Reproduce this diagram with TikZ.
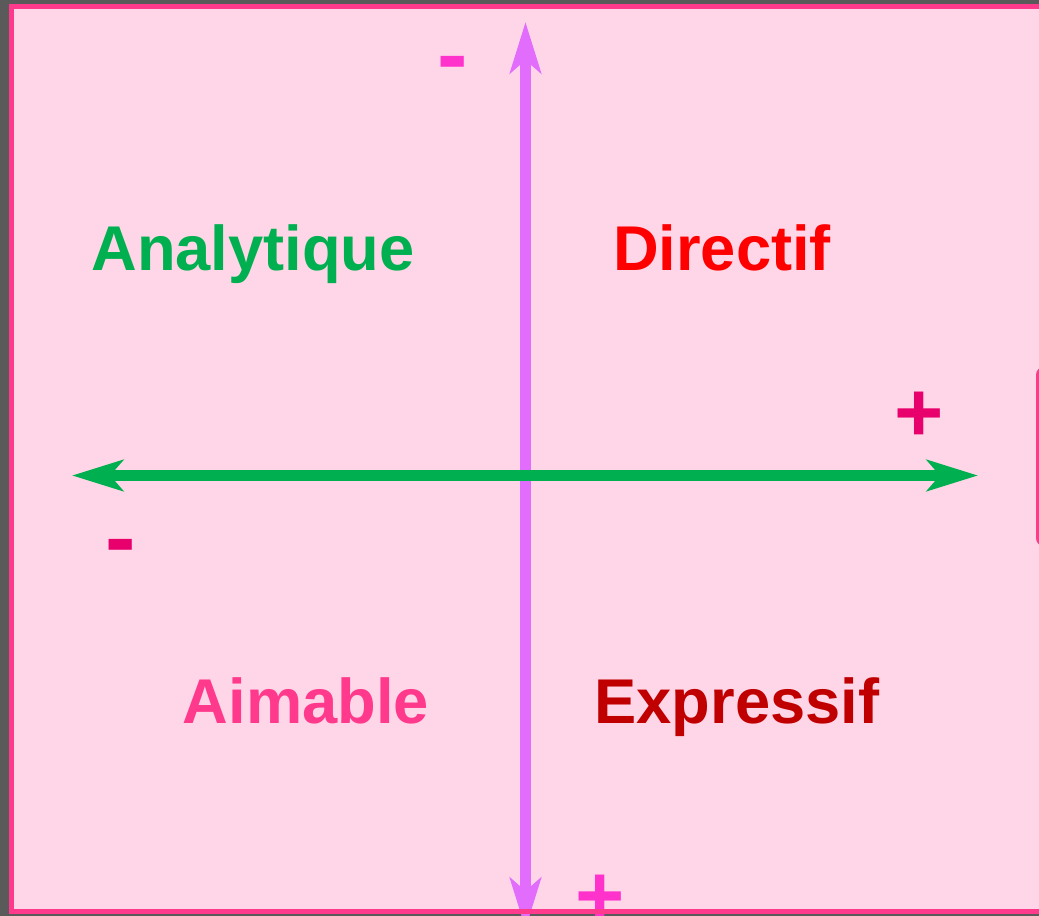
\documentclass[tikz,border=0pt]{standalone}
\usepackage{fontspec}
\setmainfont{Liberation Sans}
\usetikzlibrary{arrows.meta}

\definecolor{slate}{HTML}{5A5A5A}
\definecolor{paper}{HTML}{FFD6E7}
\definecolor{rim}{HTML}{FF3A8C}
\definecolor{axisgreen}{HTML}{00B050}
\definecolor{axisviolet}{HTML}{E26CFC}
\definecolor{signmagenta}{HTML}{FF33CC}
\definecolor{signcrimson}{HTML}{E8006C}
\definecolor{darkred}{HTML}{C00000}

\begin{document}
\begin{tikzpicture}[x=0.02cm,y=-0.02cm,
    >={Stealth[length=29pt,width=17.6pt,inset=7.4pt]},
    quadrant/.style={font=\fontsize{36}{43}\selectfont\bfseries,anchor=base,inner sep=0pt},
    sign/.style={font=\fontsize{48}{58}\selectfont\bfseries,anchor=base,inner sep=0pt},
    bar/.style={font=\fontsize{52}{62}\selectfont\bfseries,anchor=base,inner sep=0pt},
    axis/.style={<->,line width=#1}]
    % Frame of the slide
    \useasboundingbox (0,0) rectangle (1039,916);
    \clip (0,0) rectangle (1039,916);
    \fill[slate] (0,0) rectangle (1039,916);
    \fill[paper] (11.5,6.5) rectangle (1060,911.5);

    % Axes
    \coordinate (top) at (525.5,22);
    \coordinate (bottom) at (525.5,929);
    \coordinate (left) at (72,475.5);
    \coordinate (right) at (978,475.5);
    \draw[axis=6.2pt,axisviolet] (bottom) -- (top);
    \draw[axis=5.7pt,axisgreen] (left) -- (right);

    % Quadrant names
    \node[quadrant,text=axisgreen] (analytique) at (253,270) {Analytique};
    \node[quadrant,text=red] (directif) at (722,270) {Directif};
    \node[quadrant,text=rim] (aimable) at (306,723) {Aimable};
    \node[quadrant,text=darkred] (expressif) at (737,723) {Expressif};

    % Signs at the ends of the axes
    \node[bar,text=signmagenta] (vminus) at (453,85) {-};
    \node[sign,text=signmagenta] (vplus) at (600,924) {+};
    \node[bar,text=signcrimson] (hminus) at (121,568) {-};
    \node[sign,text=signcrimson] (hplus) at (919.5,441) {+};

    % Border (drawn last, over the arrow tip)
    \draw[rim,line width=2.83pt] (1060,6.5) -- (11.5,6.5) -- (11.5,911.5) -- (1060,911.5);
    \draw[rim,line width=1.7pt,rounded corners=4pt] (1045,368) -- (1037.5,368) -- (1037.5,545) -- (1045,545);
\end{tikzpicture}
\end{document}
